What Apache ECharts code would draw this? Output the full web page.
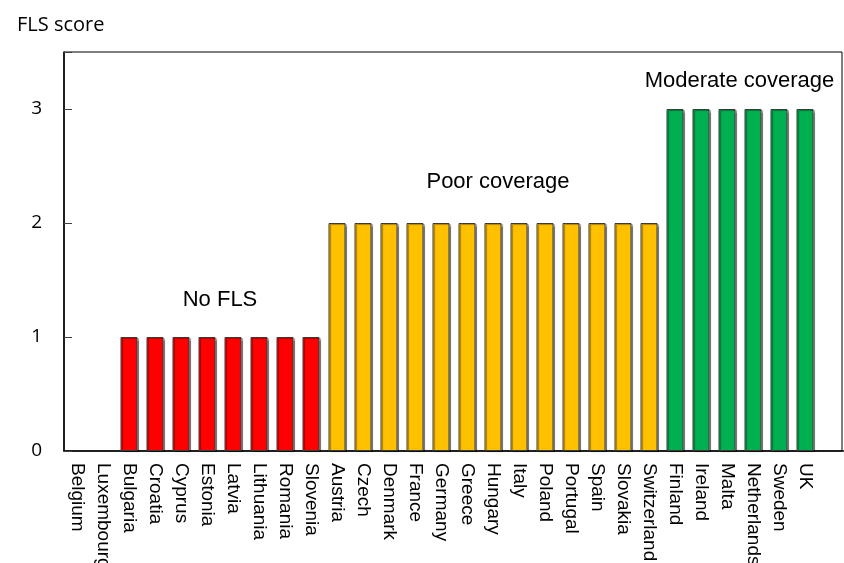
<!DOCTYPE html>
<html>
<head>
<meta charset="utf-8">
<script src="https://cdn.jsdelivr.net/npm/echarts@6/dist/echarts.min.js"></script>
<style>
html,body{margin:0;padding:0;background:#fff;}
#chart{width:844px;height:563px;}
</style>
</head>
<body>
<div id="chart"></div>
<script>
const categories = ['Belgium','Luxembourg','Bulgaria','Croatia','Cyprus','Estonia','Latvia','Lithuania','Romania','Slovenia','Austria','Czech','Denmark','France','Germany','Greece','Hungary','Italy','Poland','Portugal','Spain','Slovakia','Switzerland','Finland','Ireland','Malta','Netherlands','Sweden','UK'];
const scores = [0,0,1,1,1,1,1,1,1,1,2,2,2,2,2,2,2,2,2,2,2,2,2,3,3,3,3,3,3];
const yTicks = [0,1,2,3];
const groupLabels = ['No FLS','Poor coverage','Moderate coverage'];

const colorByScore = {0:'#FF0000',1:'#FF0000',2:'#FFC000',3:'#00B050'};

const barData = scores.map(function(v){
  return v === 0
    ? {value:v, itemStyle:{borderWidth:0, shadowColor:'rgba(0,0,0,0)', opacity:0}}
    : {value:v};
});

const chart = echarts.init(document.getElementById('chart'), null, {renderer:'canvas'});
const option = {
  animation:false,
  backgroundColor:'#ffffff',
  title:{
    text:'FLS score', left:12, top:10,
    textStyle:{fontFamily:'Open Sans', fontSize:20, fontWeight:'normal', color:'#000'}
  },
  grid:{left:64, right:26, top:52, bottom:112, containLabel:false, outerBoundsMode:'none'},
  xAxis:{
    type:'category', data:categories, boundaryGap:true,
    axisLine:{show:true, lineStyle:{color:'#000', width:1.5}},
    axisTick:{show:false},
    axisLabel:{rotate:-90, interval:0, margin:12, color:'#000', fontFamily:'Liberation Sans', fontSize:19}
  },
  yAxis:{
    type:'value', min:0, max:3.5, interval:1,
    axisLine:{show:true, lineStyle:{color:'#000', width:1.5}},
    axisTick:{show:true, inside:true, length:8, lineStyle:{color:'#404040', width:1}},
    splitLine:{show:false},
    axisLabel:{margin:22, color:'#000', fontFamily:'Open Sans', fontSize:19,
      formatter:function(v){ return yTicks.indexOf(v) >= 0 ? String(v) : ''; }}
  },
  series:[{
    type:'bar', data:barData, barWidth:17,
    itemStyle:{
      color:function(p){ return colorByScore[p.value]; },
      borderColor:'#3a3a3a', borderWidth:1,
      shadowColor:'rgba(0,0,0,0.35)', shadowOffsetX:1.5, shadowOffsetY:1, shadowBlur:1
    }
  }],
  graphic:[
    {type:'rect', shape:{x:64, y:52, width:778, height:399}, style:{fill:'none', stroke:'#000', lineWidth:1}, silent:true, z:0},
    {type:'line', shape:{x1:818, y1:451, x2:844, y2:451}, style:{stroke:'#000', lineWidth:1.5}, silent:true},
    {type:'text', x:220, y:299.5, style:{text:groupLabels[0], fill:'#000', font:'22px "Liberation Sans"', textAlign:'center', textVerticalAlign:'middle'}},
    {type:'text', x:498, y:181.5, style:{text:groupLabels[1], fill:'#000', font:'22px "Liberation Sans"', textAlign:'center', textVerticalAlign:'middle'}},
    {type:'text', x:739.5, y:80.5, style:{text:groupLabels[2], fill:'#000', font:'22px "Liberation Sans"', textAlign:'center', textVerticalAlign:'middle'}}
  ]
};
chart.setOption(option);
</script>
</body>
</html>
